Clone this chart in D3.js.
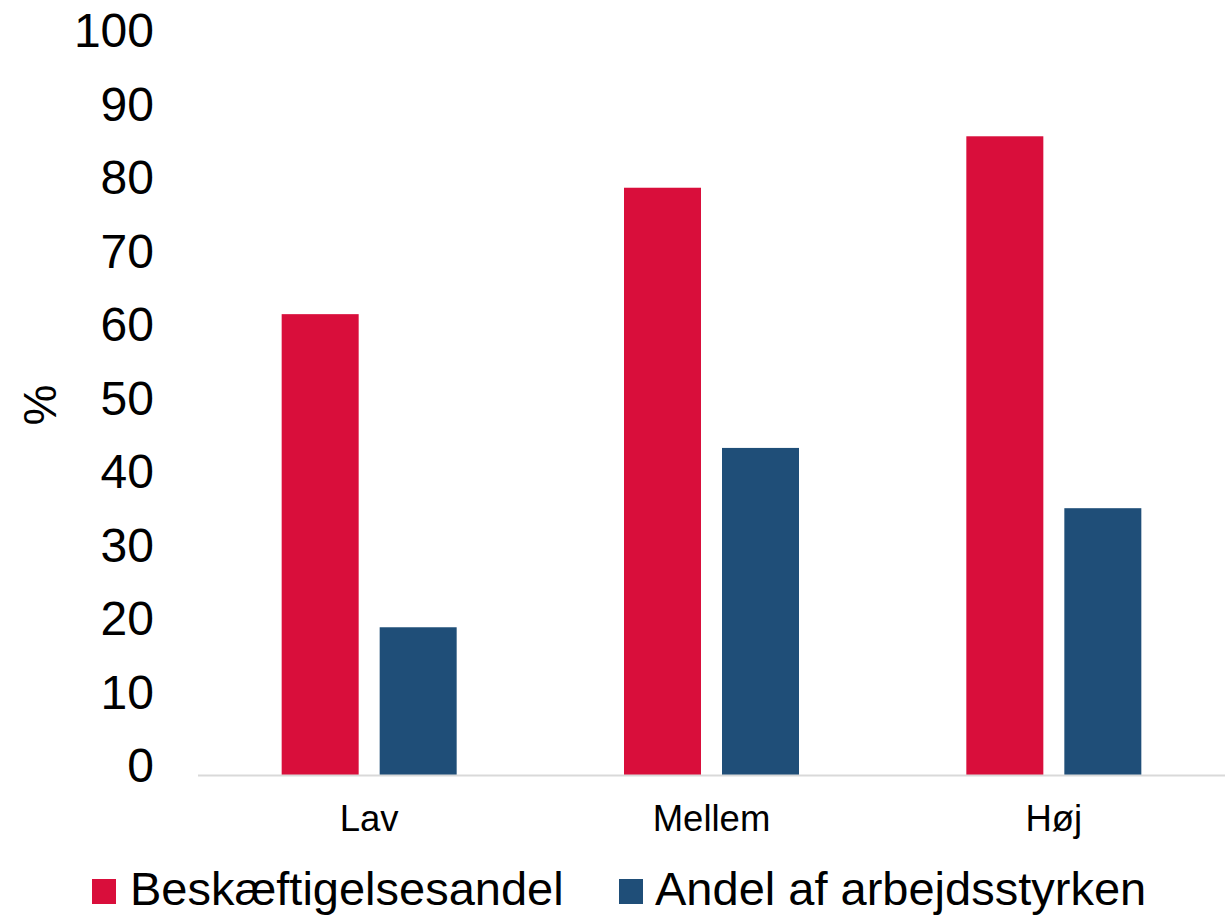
<!DOCTYPE html>
<html><head><meta charset="utf-8">
<script src="https://cdn.jsdelivr.net/npm/d3@7"></script>
<style>body{margin:0;background:#fff}svg{display:block}text{font-family:"Liberation Sans",Arial,sans-serif;fill:#000}</style>
</head><body>
<svg id="c" width="1232" height="916"></svg>
<script>
const categories = ["Lav", "Mellem", "Høj"];
const seriesNames = ["Beskæftigelsesandel", "Andel af arbejdsstyrken"];
const beskaeftigelse = [62.7, 79.9, 86.9];
const arbejdsstyrke = [20.1, 44.5, 36.3];
const yTicks = [0, 10, 20, 30, 40, 50, 60, 70, 80, 90, 100];
const colors = ["#D90E3B", "#1F4E78"];

const svg = d3.select("#c");
const x0 = 198, x1 = 1225, yTop = 40, yBot = 775;
const x = d3.scaleBand().domain(categories).range([x0, x1]).paddingInner(0).paddingOuter(0);
const y = d3.scaleLinear().domain([0, 100]).range([yBot, yTop]);
const barW = 77, gap = 21;
const series = [beskaeftigelse, arbejdsstyrke];

series.forEach((vals, si) => {
  svg.append("g").selectAll("rect").data(vals).join("rect")
    .attr("x", (d, i) => x(categories[i]) + x.bandwidth() / 2 - (barW * 2 + gap) / 2 + si * (barW + gap))
    .attr("y", d => y(d))
    .attr("width", barW)
    .attr("height", d => yBot - y(d))
    .attr("fill", colors[si]);
});

// baseline
svg.append("line").attr("x1", x0).attr("x2", x1).attr("y1", yBot + 0.5).attr("y2", yBot + 0.5)
  .attr("stroke", "#D9D9D9").attr("stroke-width", 2);

// y axis labels
const yAxis = d3.axisLeft(y).tickValues(yTicks).tickSize(0).tickPadding(0);
const gy = svg.append("g").attr("transform", "translate(154,0)").call(yAxis);
gy.select(".domain").remove();
gy.selectAll("text").attr("font-size", 48).attr("font-family", '"Liberation Sans",Arial,sans-serif')
  .attr("fill", "#000").attr("dy", null).attr("dominant-baseline", "auto")
  .attr("transform", "translate(0,6.5)");

// x axis labels
const xAxis = d3.axisBottom(x).tickSize(0).tickPadding(0);
const gx = svg.append("g").attr("transform", `translate(0,${yBot})`).call(xAxis);
gx.select(".domain").remove();
gx.selectAll("text").attr("font-size", 36.5).attr("font-family", '"Liberation Sans",Arial,sans-serif')
  .attr("fill", "#000").attr("dy", null).attr("y", 56);

// y title
svg.append("text").attr("transform", "translate(56,405) rotate(-90)")
  .attr("text-anchor", "middle").attr("font-size", 46).text("%");

// legend
const legX = [92, 619];
const legTextX = [130, 655];
seriesNames.forEach((n, i) => {
  svg.append("rect").attr("x", legX[i]).attr("y", 879).attr("width", 24).attr("height", 25).attr("fill", colors[i]);
  svg.append("text").attr("x", legTextX[i]).attr("y", 905).attr("font-size", 47).text(n);
});
</script>
</body></html>
